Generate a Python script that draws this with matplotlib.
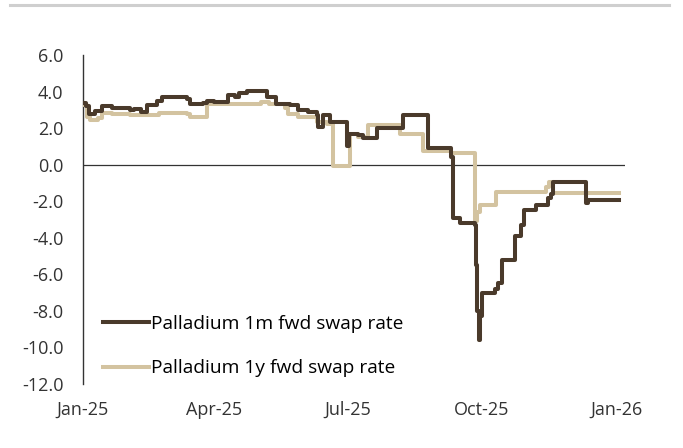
import matplotlib
matplotlib.use("Agg")
import matplotlib.pyplot as plt
import matplotlib.dates as mdates
import pandas as pd

# 1m fwd swap rate: change points (step series)
m1_dates = [
    "2025-01-01", "2025-01-03", "2025-01-05", "2025-01-09", "2025-01-14", "2025-01-21",
    "2025-02-02", "2025-02-05", "2025-02-10", "2025-02-14", "2025-02-21", "2025-02-24",
    "2025-03-13", "2025-03-15", "2025-03-24", "2025-03-27", "2025-04-01", "2025-04-10",
    "2025-04-15", "2025-04-18", "2025-04-23", "2025-05-06", "2025-05-07", "2025-05-13",
    "2025-05-23", "2025-05-28", "2025-06-04", "2025-06-10", "2025-06-11", "2025-06-14",
    "2025-06-19", "2025-07-01", "2025-07-02", "2025-07-08", "2025-07-12", "2025-07-21",
    "2025-08-08", "2025-08-25", "2025-09-10", "2025-09-11", "2025-09-16", "2025-09-26",
    "2025-09-27", "2025-09-28", "2025-09-29", "2025-09-30", "2025-10-01", "2025-10-10",
    "2025-10-12", "2025-10-15", "2025-10-24", "2025-10-28", "2025-10-30",
    "2025-11-07", "2025-11-15", "2025-11-17", "2025-11-19", "2025-12-09", "2025-12-11",
    "2025-12-13", "2026-01-03",
]
m1_values = [
    3.4, 3.2, 2.8, 2.95, 3.2, 3.1,
    3.0, 3.05, 2.9, 3.25, 3.5, 3.7,
    3.6, 3.35, 3.4, 3.5, 3.45, 3.8,
    3.7, 3.9, 4.05, 4.05, 3.7, 3.35,
    3.25, 3.0, 2.9, 2.7, 2.05, 2.7,
    2.35, 1.0, 1.7, 1.6, 1.45, 2.0,
    2.7, 0.9, 0.4, -2.9, -3.2, -3.3,
    -5.5, -8.0, -9.6, -8.3, -7.0, -6.8,
    -6.5, -5.2, -3.9, -3.3, -2.5,
    -2.2, -1.8, -1.6, -0.95, -0.95, -2.1,
    -1.95, -1.95,
]

# 1y fwd swap rate
y1_dates = [
    "2025-01-01", "2025-01-04", "2025-01-06", "2025-01-11", "2025-01-14", "2025-01-21",
    "2025-02-02", "2025-02-22", "2025-03-13", "2025-03-15", "2025-03-27", "2025-05-03",
    "2025-05-08", "2025-05-19", "2025-05-21", "2025-05-28", "2025-06-10", "2025-06-17",
    "2025-06-21", "2025-07-02", "2025-07-03", "2025-07-08", "2025-07-15", "2025-08-05",
    "2025-08-06", "2025-08-21", "2025-08-22", "2025-09-10", "2025-09-26", "2025-09-28",
    "2025-09-30", "2025-10-11", "2025-11-12", "2025-11-14", "2025-11-16", "2025-11-19",
    "2026-01-03",
]
y1_values = [
    3.25, 2.6, 2.45, 2.55, 2.85, 2.8,
    2.7, 2.85, 2.8, 2.6, 3.35, 3.45,
    3.35, 3.1, 2.8, 2.6, 2.35, 2.25,
    -0.05, -0.05, 1.7, 1.5, 2.2, 2.2,
    1.7, 1.7, 0.75, 0.63, -3.1, -2.6,
    -2.2, -1.5, -1.5, -1.2, -0.95, -1.55,
    -1.55,
]

series_labels = ["Palladium 1m fwd swap rate", "Palladium 1y fwd swap rate"]
y_ticks = [6.0, 4.0, 2.0, 0.0, -2.0, -4.0, -6.0, -8.0, -10.0, -12.0]
x_ticks = ["2025-01-01", "2025-04-01", "2025-07-01", "2025-10-01", "2026-01-01"]

DARK = "#4a3a2b"
TAN = "#d3c3a0"
INK = "#333333"

plt.rcParams["font.family"] = ["Open Sans", "DejaVu Sans"]

fig = plt.figure(figsize=(6.83, 4.48), dpi=100)
ax = fig.add_axes([0.1215, 0.143, 0.7936, 0.734])

# thin grey rule across the top of the figure
fig.add_artist(plt.Line2D([0.015, 0.98], [0.989, 0.989], color="#cfcfcf", lw=2.2))

ax.plot(pd.to_datetime(y1_dates), y1_values, drawstyle="steps-post",
        color=TAN, lw=2.9, label=series_labels[1], zorder=3)
ax.plot(pd.to_datetime(m1_dates), m1_values, drawstyle="steps-post",
        color=DARK, lw=2.9, label=series_labels[0], zorder=4)
ax.axhline(0, color=INK, lw=0.9, zorder=2)

ax.set_xlim(pd.Timestamp("2025-01-01"), pd.Timestamp("2026-01-07"))
ax.set_ylim(-12, 6)
ax.set_yticks(y_ticks)
ax.set_yticklabels([f"{v:.1f}" for v in y_ticks])
ax.set_xticks(pd.to_datetime(x_ticks))
ax.xaxis.set_major_formatter(mdates.DateFormatter("%b-%y"))

for side in ["top", "right", "bottom"]:
    ax.spines[side].set_visible(False)
ax.spines["left"].set_color(INK)
ax.spines["left"].set_linewidth(1.0)
ax.tick_params(axis="both", length=0, labelsize=13, colors=INK)
ax.tick_params(axis="x", pad=12)
ax.tick_params(axis="y", pad=14)

handles, labels = ax.get_legend_handles_labels()
ax.legend(handles[::-1], labels[::-1], loc="lower left", bbox_to_anchor=(0.015, -0.015),
          frameon=False, fontsize=13.8, handlelength=2.4, handletextpad=0.12,
          labelspacing=1.4, borderaxespad=0.2)

fig.savefig("out.png", dpi=100, facecolor="white")
